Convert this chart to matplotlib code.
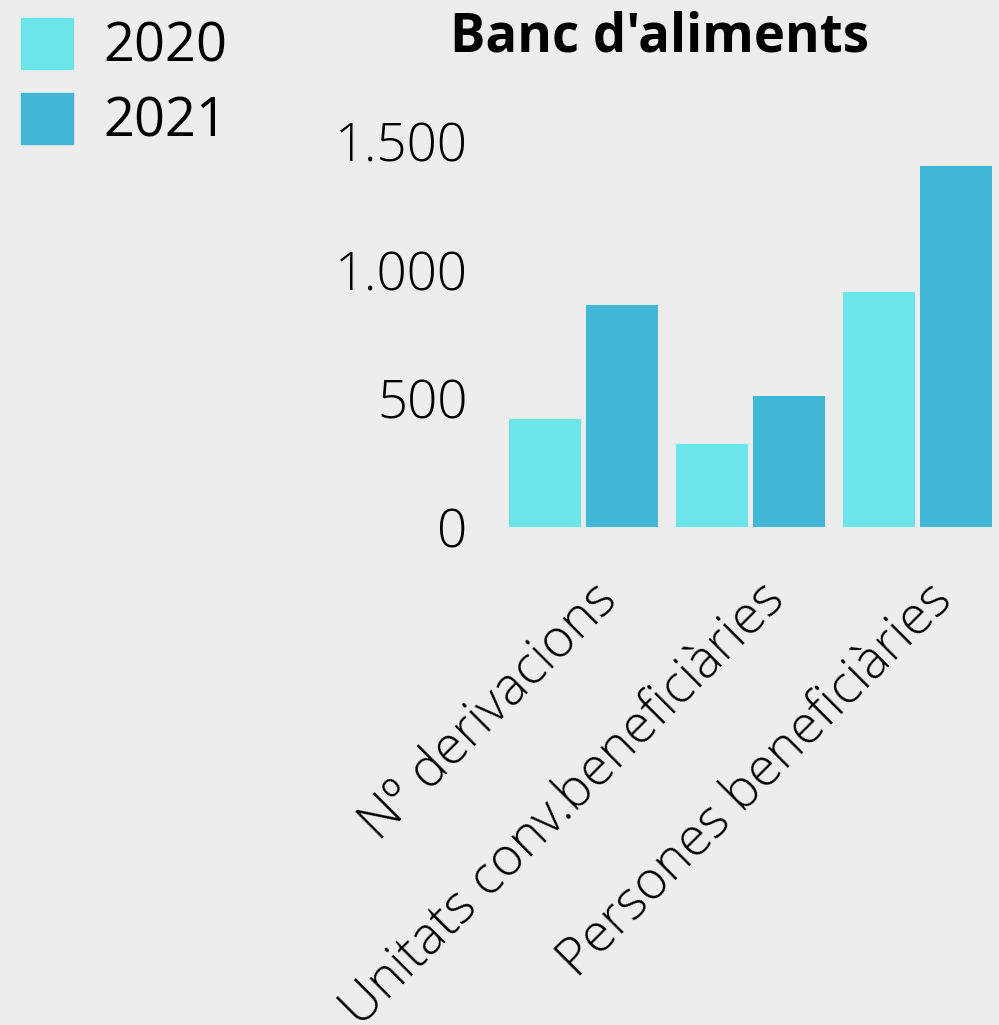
import matplotlib
matplotlib.use("Agg")
import matplotlib.pyplot as plt
import matplotlib.transforms as mtransforms
import numpy as np
from matplotlib.patches import Patch

# data
categories = ["Nº derivacions", "Unitats conv.beneficiàries", "Persones beneficiàries"]
years = ["2020", "2021"]
values_2020 = [422, 325, 913]
values_2021 = [864, 510, 1404]
yticks = [0, 500, 1000, 1500]
ytick_labels = ["0", "500", "1.000", "1.500"]

col_2020 = "#6ce5e8"
col_2021 = "#42b7d6"
bg = "#ededed"

plt.rcParams['font.family'] = ['Open Sans', 'DejaVu Sans']

fig = plt.figure(figsize=(9.99, 10.25), dpi=100, facecolor=bg)
ax = fig.add_axes([509/999, 1 - 527/1025, (992 - 509)/999, (527 - 141.7)/1025])
ax.set_facecolor(bg)

x = np.arange(len(categories))
w = 0.43
gap = 0.015
ax.bar(x - w/2 - gap, values_2020, w, color=col_2020)
ax.bar(x + w/2 + gap, values_2021, w, color=col_2021)

ax.set_xlim(-w - gap, len(categories) - 1 + w + gap)
ax.set_ylim(0, 1500)
ax.set_yticks(yticks)
ax.set_yticklabels(ytick_labels, fontsize=38, fontweight='light')
ax.set_xticks(x)
ax.set_xticklabels(categories, fontsize=38, fontweight='light', rotation=45,
                   ha='right', va='top', rotation_mode='anchor')
ax.tick_params(length=0, axis='y', pad=30)
ax.tick_params(length=0, axis='x', pad=33)
# nudge the rotated labels a bit to the right
shift = mtransforms.ScaledTranslation(7/100, 0, fig.dpi_scale_trans)
for lab in ax.get_xticklabels():
    lab.set_transform(lab.get_transform() + shift)
for s in ax.spines.values():
    s.set_visible(False)

fig.text(659.5/999, 1 - 37/1025, "Banc d'aliments", fontsize=38, fontweight='bold',
         ha='center', va='center')

handles = [Patch(color=col_2020), Patch(color=col_2021)]
fig.legend(handles, years, loc='upper left', bbox_to_anchor=(21/999, 1 - 18/1025),
           frameon=False, fontsize=39, handlelength=0.96, handleheight=1.06,
           handletextpad=0.57, labelspacing=0.34, borderpad=0, borderaxespad=0)

fig.savefig("out.png", dpi=100, facecolor=bg)
